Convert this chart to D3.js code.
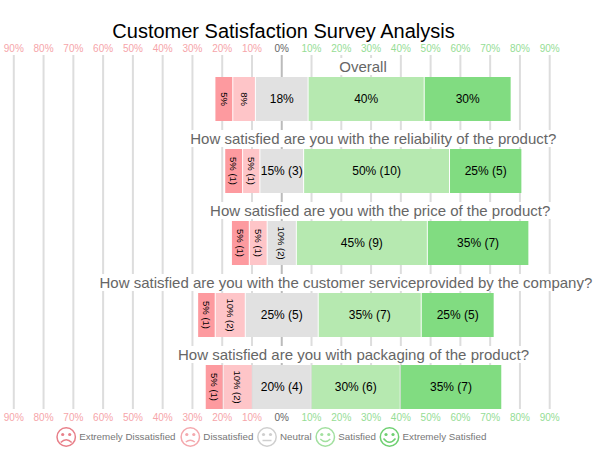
<!DOCTYPE html>
<html>
<head>
<meta charset="utf-8">
<script src="https://d3js.org/d3.v7.min.js"></script>
<style>
body { margin: 0; background: #fff; }
text { font-family: "Liberation Sans", Arial, sans-serif; }
</style>
</head>
<body>
<svg id="chart" width="602" height="466"></svg>
<script>
const questions = [
    "Overall",
    "How satisfied are you with the reliability of the product?",
    "How satisfied are you with the price of the product?",
    "How satisfied are you with the customer serviceprovided by the company?",
    "How satisfied are you with packaging of the product?"
]
const answers = ["Extremely Dissatisfied", "Dissatisfied", "Neutral", "Satisfied", "Extremely Satisfied"]
const ticks = [-90, -80, -70, -60, -50, -40, -30, -20, -10, 0, 10, 20, 30, 40, 50, 60, 70, 80, 90]

// segment widths, in axis percent
const veryBad = [6, 6, 6, 5.9, 6]
const bad = [7.6, 5.8, 6, 10.1, 9.8]
const neutral = [17.7, 14.7, 9.8, 24.5, 19.8]
const good = [39, 49, 44, 34.6, 29.9]
const veryGood = [29.2, 24.3, 34.1, 24.5, 34.1]

const labels = [
    ["5%", "8%", "18%", "40%", "30%"],
    ["5% (1)", "5% (1)", "15% (3)", "50% (10)", "25% (5)"],
    ["5% (1)", "5% (1)", "10% (2)", "45% (9)", "35% (7)"],
    ["5% (1)", "10% (2)", "25% (5)", "35% (7)", "25% (5)"],
    ["5% (1)", "10% (2)", "20% (4)", "30% (6)", "35% (7)"]
]

const colors = ["#fd9a9f", "#fec5c8", "#e1e1e1", "#b6e9b0", "#81dc81"]
const faceColors = ["#e8808a", "#f4a9ae", "#cfcfcf", "#a3e0a0", "#6fd072"]

const svg = d3.select("#chart")
const x = d3.scaleLinear().domain([-90, 90]).range([13.8, 549.7])
const y = d3.scaleBand().domain(questions).range([77, 437]).paddingInner(0).paddingOuter(0)
const barHeight = 44

svg.append("text")
    .attr("x", 283.5)
    .attr("y", 38)
    .attr("text-anchor", "middle")
    .attr("font-size", 20)
    .attr("fill", "#000")
    .text("Customer Satisfaction Survey Analysis")

function tickColor(t) {
    if (t < 0) return "#f6a5aa"
    if (t > 0) return "#95dd95"
    return "#666"
}

// grid lines
svg.selectAll("line.grid")
    .data(ticks)
    .join("line")
        .attr("class", "grid")
        .attr("x1", d => x(d))
        .attr("x2", d => x(d))
        .attr("y1", 55)
        .attr("y2", 409)
        .attr("stroke", d => d == 0 ? "#bbb" : "#ddd")
        .attr("stroke-width", 2)

// tick labels top and bottom
;[52, 420.5].forEach(ty => {
    svg.append("g").selectAll("text")
        .data(ticks)
        .join("text")
            .attr("x", d => x(d))
            .attr("y", ty)
            .attr("text-anchor", "middle")
            .attr("font-size", 10)
            .attr("fill", tickColor)
            .text(d => Math.abs(d) + "%")
})

const rows = svg.append("g").selectAll("g")
    .data(questions)
    .join("g")
        .attr("transform", d => `translate(0,${y(d)})`)

// stacked segments, neutral centred on zero, title centred over the bar
rows.each(function(q, i) {
    const g = d3.select(this)
    const vals = [veryBad[i], bad[i], neutral[i], good[i], veryGood[i]]
    let start = -(vals[0] + vals[1] + vals[2] / 2)

    const barLeft = x(start)
    const barRight = x(start + d3.sum(vals))
    const plate = g.append("rect").attr("fill", "#fff")
    const title = g.append("text")
        .attr("x", (barLeft + barRight) / 2)
        .attr("y", -5)
        .attr("text-anchor", "middle")
        .attr("font-size", 15)
        .attr("fill", "#666")
        .text(q)
    const box = title.node().getBBox()
    plate.attr("x", box.x - 1).attr("y", box.y).attr("width", box.width + 2).attr("height", box.height)

    vals.forEach((v, k) => {
        const x0 = x(start), x1 = x(start + v)
        start += v
        g.append("rect")
            .attr("x", x0 + 0.5)
            .attr("y", 0)
            .attr("width", x1 - x0 - 1)
            .attr("height", barHeight)
            .attr("fill", colors[k])
        const cx = (x0 + x1) / 2
        const narrow = (x1 - x0) < 36
        g.append("text")
            .attr("transform", `translate(${cx},${barHeight / 2}) rotate(${narrow ? 90 : 0})`)
            .attr("text-anchor", "middle")
            .attr("dy", "0.35em")
            .attr("font-size", narrow ? 9.5 : 12)
            .attr("fill", "#000")
            .text(labels[i][k])
    })
})

// legend
const legendX = [56.2, 180.3, 257, 315.3, 379.5]
const legend = svg.append("g").selectAll("g")
    .data(answers)
    .join("g")
        .attr("transform", (d, i) => `translate(${legendX[i]},437)`)

legend.each(function(d, i) {
    const g = d3.select(this)
    const c = faceColors[i]
    g.append("circle").attr("cx", 10).attr("r", 9.2).attr("fill", "none").attr("stroke", c).attr("stroke-width", 1.5)
    g.append("circle").attr("cx", 6.5).attr("cy", -2.5).attr("r", 1.6).attr("fill", c)
    g.append("circle").attr("cx", 13.5).attr("cy", -2.5).attr("r", 1.6).attr("fill", c)
    const mouth = [
        "M4.5 5.5Q10 0 15.5 5.5",
        "M5.5 5Q10 1.5 14.5 5",
        "M5.5 3.5L14.5 3.5",
        "M5 2Q10 7 15 2",
        "M4 1.5Q10 9 16 1.5"
    ][i]
    g.append("path").attr("d", mouth).attr("fill", "none").attr("stroke", c).attr("stroke-width", 1.5)
    g.append("text")
        .attr("x", 23)
        .attr("dy", "0.35em")
        .attr("font-size", 9.8)
        .attr("fill", "#777")
        .text(d)
})
</script>
</body>
</html>
